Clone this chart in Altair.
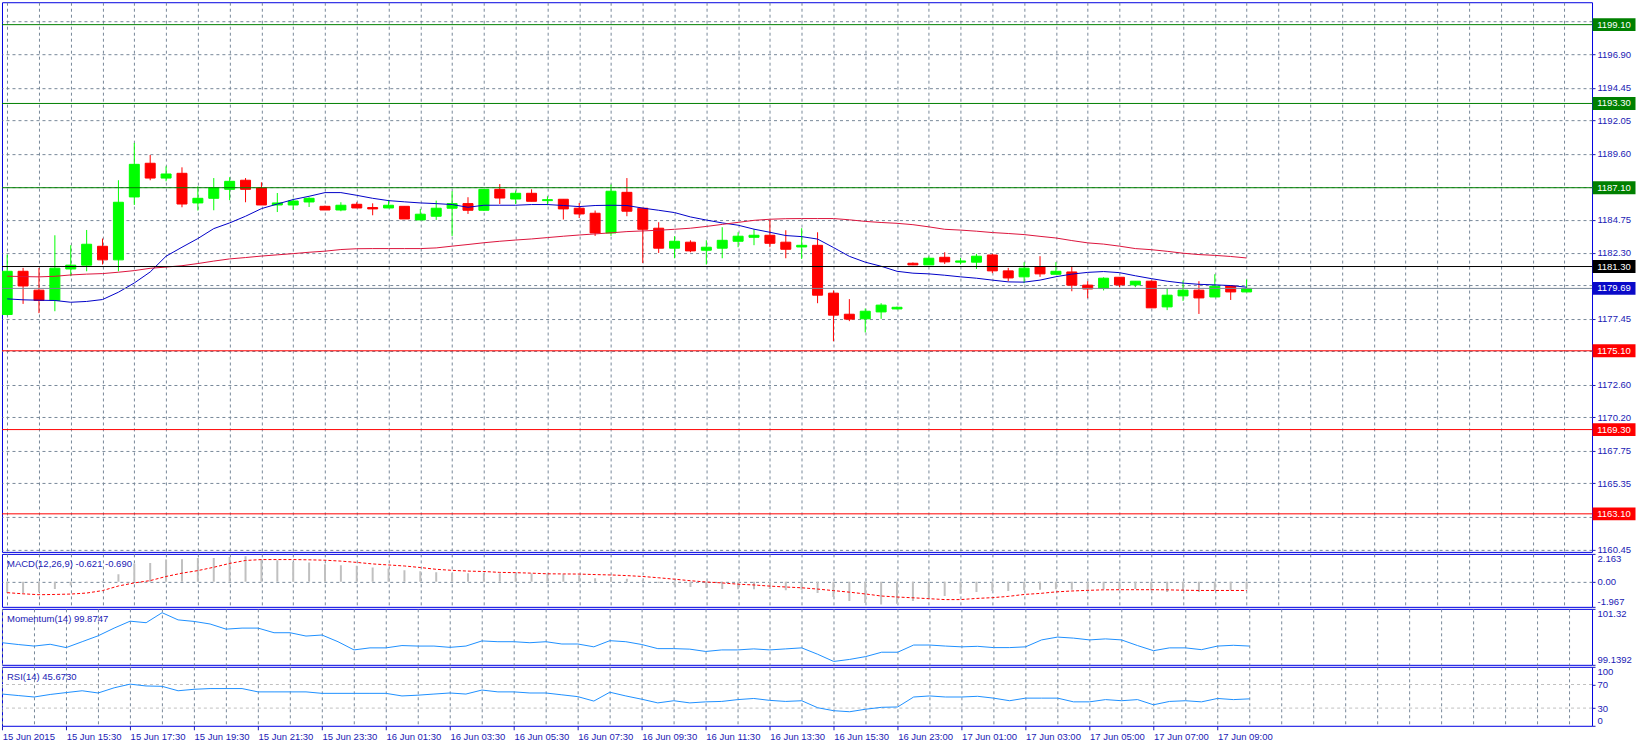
import json
import altair as alt
import pandas as pd

# ---------------- data ----------------
opens = [1177.77, 1180.95, 1179.56, 1178.80, 1181.12, 1181.40, 1182.79, 1181.79, 1186.42, 1188.90,
         1187.81, 1188.16, 1185.98, 1186.32, 1186.98, 1187.65, 1187.08, 1185.83, 1185.83, 1186.05,
         1185.73, 1185.46, 1185.88, 1185.64, 1185.61, 1185.73, 1184.73, 1185.00, 1185.59, 1185.93,
         1185.44, 1186.98, 1186.27, 1186.69, 1186.15, 1186.25, 1185.59, 1185.22, 1183.77, 1186.76,
         1185.59, 1184.12, 1182.65, 1183.09, 1182.50, 1182.65, 1183.16, 1183.45, 1183.60, 1183.09,
         1182.74, 1182.86, 1179.34, 1177.79, 1177.45, 1177.96, 1178.18, 1181.54, 1181.42, 1181.98,
         1181.62, 1181.62, 1182.15, 1180.98, 1180.54, 1181.30, 1180.73, 1180.90, 1179.93, 1179.68,
         1180.51, 1179.95, 1180.22, 1178.33, 1179.14, 1179.56, 1179.06, 1179.87, 1179.43]
highs = [1182.18, 1181.20, 1181.20, 1183.60, 1182.87, 1183.99, 1183.36, 1187.65, 1190.39, 1189.51,
         1188.67, 1188.60, 1187.20, 1187.81, 1187.87, 1187.81, 1187.50, 1186.71, 1186.30, 1186.40,
         1185.78, 1186.03, 1186.03, 1185.95, 1186.20, 1185.73, 1185.54, 1186.15, 1186.84, 1186.40,
         1187.00, 1187.37, 1186.89, 1186.98, 1186.47, 1186.25, 1185.98, 1185.42, 1187.33, 1187.81,
         1185.59, 1184.56, 1183.53, 1183.23, 1183.23, 1184.19, 1183.82, 1184.04, 1184.73, 1183.97,
         1184.12, 1183.82, 1179.54, 1178.90, 1178.21, 1178.60, 1178.35, 1181.60, 1182.04, 1182.35,
         1181.93, 1182.23, 1182.23, 1181.20, 1181.62, 1182.06, 1181.62, 1181.27, 1180.22, 1180.51,
         1180.51, 1180.22, 1180.27, 1179.68, 1180.27, 1180.22, 1180.73, 1179.87, 1180.34]
lows = [1177.70, 1178.55, 1177.87, 1178.01, 1180.59, 1180.95, 1181.45, 1180.95, 1185.83, 1187.65,
        1187.57, 1185.66, 1185.42, 1185.44, 1186.18, 1186.03, 1185.83, 1185.31, 1185.46, 1185.68,
        1185.46, 1185.37, 1185.61, 1185.07, 1185.61, 1184.80, 1184.73, 1184.73, 1183.55, 1185.17,
        1185.40, 1185.90, 1185.90, 1186.10, 1185.81, 1184.76, 1184.87, 1183.55, 1183.55, 1185.00,
        1181.56, 1182.30, 1181.91, 1182.35, 1181.45, 1181.91, 1182.72, 1182.87, 1182.72, 1181.91,
        1181.86, 1178.60, 1175.80, 1177.28, 1176.45, 1177.45, 1178.15, 1181.40, 1181.42, 1181.49,
        1181.45, 1181.12, 1180.81, 1180.22, 1180.07, 1180.54, 1180.73, 1179.48, 1178.97, 1179.54,
        1179.78, 1179.78, 1178.26, 1178.09, 1178.77, 1177.81, 1179.06, 1178.84, 1179.43]
closes = [1180.95, 1179.87, 1178.80, 1181.18, 1181.40, 1182.94, 1181.79, 1186.03, 1188.82, 1187.81,
          1188.11, 1185.90, 1186.32, 1187.11, 1187.57, 1186.98, 1185.83, 1185.98, 1186.12, 1186.32,
          1185.46, 1185.81, 1185.61, 1185.54, 1185.81, 1184.80, 1185.15, 1185.59, 1185.93, 1185.44,
          1186.98, 1186.34, 1186.69, 1186.10, 1186.22, 1185.54, 1185.17, 1183.77, 1186.84, 1185.37,
          1184.04, 1182.65, 1183.16, 1182.45, 1182.72, 1183.23, 1183.53, 1183.60, 1183.01, 1182.57,
          1182.86, 1179.19, 1177.72, 1177.43, 1178.01, 1178.46, 1178.30, 1181.42, 1181.91, 1181.64,
          1181.71, 1182.06, 1180.98, 1180.46, 1181.18, 1180.76, 1180.95, 1179.93, 1179.65, 1180.44,
          1179.95, 1180.22, 1178.26, 1179.19, 1179.56, 1178.99, 1179.85, 1179.43, 1179.69]

ma_fast = [1178.92, 1178.85, 1178.82, 1178.80, 1178.67, 1178.73, 1178.87, 1179.41, 1180.09, 1180.90,
           1182.06, 1182.72, 1183.36, 1184.09, 1184.51, 1185.00, 1185.56, 1185.90, 1186.23, 1186.47,
           1186.74, 1186.74, 1186.54, 1186.32, 1186.15, 1186.06, 1185.98, 1185.93, 1185.86, 1185.66,
           1185.81, 1185.81, 1185.81, 1185.86, 1185.86, 1185.79, 1185.71, 1185.79, 1185.81, 1185.79,
           1185.60, 1185.44, 1185.27, 1184.95, 1184.72, 1184.51, 1184.34, 1184.05, 1183.82, 1183.58,
           1183.50, 1183.32, 1182.70, 1182.05, 1181.62, 1181.32, 1180.95, 1180.81, 1180.76, 1180.66,
           1180.54, 1180.44, 1180.30, 1180.17, 1180.15, 1180.30, 1180.55, 1180.74, 1180.87, 1180.93,
           1180.85, 1180.62, 1180.41, 1180.22, 1180.08, 1179.99, 1179.95, 1179.90, 1179.78]
ma_slow = [1180.59, 1180.56, 1180.54, 1180.58, 1180.68, 1180.74, 1180.78, 1180.88, 1181.00, 1181.17,
           1181.26, 1181.36, 1181.52, 1181.70, 1181.86, 1181.96, 1182.07, 1182.16, 1182.25, 1182.35,
           1182.43, 1182.55, 1182.61, 1182.62, 1182.62, 1182.62, 1182.62, 1182.67, 1182.80, 1182.92,
           1183.05, 1183.16, 1183.25, 1183.33, 1183.43, 1183.53, 1183.62, 1183.70, 1183.78, 1183.87,
           1183.92, 1183.97, 1184.04, 1184.12, 1184.25, 1184.40, 1184.55, 1184.70, 1184.78, 1184.82,
           1184.83, 1184.83, 1184.83, 1184.74, 1184.62, 1184.54, 1184.48, 1184.38, 1184.22, 1184.04,
           1183.98, 1183.90, 1183.80, 1183.73, 1183.65, 1183.52, 1183.40, 1183.21, 1183.04, 1182.95,
           1182.80, 1182.62, 1182.54, 1182.42, 1182.28, 1182.18, 1182.12, 1182.04, 1181.93]

macd_hist = [-0.89, -0.89, -0.83, -0.57, -0.31, -0.08, 0.05, 0.57, 1.41, 1.46,
             1.72, 1.75, 1.85, 1.85, 1.93, 1.98, 1.75, 1.67, 1.54, 1.49,
             1.36, 1.28, 1.23, 1.10, 1.02, 0.89, 0.80, 0.73, 0.65, 0.65,
             0.65, 0.65, 0.63, 0.63, 0.63, 0.57, 0.50, 0.26, 0.37, 0.23,
             0.10, -0.10, -0.29, -0.42, -0.50, -0.57, -0.60, -0.60, -0.57, -0.68,
             -0.63, -0.89, -1.20, -1.51, -1.67, -1.78, -1.72, -1.51, -1.33, -1.12,
             -0.94, -0.81, -0.73, -0.73, -0.68, -0.63, -0.60, -0.63, -0.63, -0.60,
             -0.60, -0.57, -0.68, -0.81, -0.68, -0.81, -0.68, -0.68, -0.62]
macd_signal = [-0.86, -0.95, -1.02, -1.00, -0.97, -0.89, -0.70, -0.34, -0.10, 0.08,
               0.40, 0.66, 0.86, 1.12, 1.42, 1.65, 1.72, 1.72, 1.72, 1.70,
               1.67, 1.60, 1.50, 1.38, 1.30, 1.22, 1.10, 0.96, 0.88, 0.82,
               0.79, 0.72, 0.70, 0.66, 0.61, 0.60, 0.59, 0.55, 0.52, 0.47,
               0.40, 0.30, 0.19, 0.07, -0.03, -0.10, -0.20, -0.26, -0.35, -0.42,
               -0.48, -0.58, -0.70, -0.82, -0.96, -1.12, -1.20, -1.26, -1.33, -1.40,
               -1.40, -1.31, -1.25, -1.15, -1.00, -0.92, -0.80, -0.73, -0.68, -0.64,
               -0.63, -0.63, -0.63, -0.64, -0.67, -0.69, -0.69, -0.69, -0.69]
momentum = [100.00, 99.93, 99.87, 99.94, 99.81, 100.04, 100.27, 100.57, 100.84, 100.78,
            101.17, 100.89, 100.83, 100.73, 100.53, 100.57, 100.57, 100.39, 100.39, 100.26,
            100.30, 100.04, 99.72, 99.80, 99.80, 99.89, 99.87, 99.87, 99.82, 99.87,
            100.07, 100.04, 100.04, 100.00, 100.04, 99.95, 99.95, 99.84, 100.08, 100.04,
            99.93, 99.77, 99.77, 99.75, 99.66, 99.72, 99.72, 99.76, 99.72, 99.76,
            99.80, 99.55, 99.27, 99.35, 99.46, 99.63, 99.63, 99.91, 99.91, 99.87,
            99.84, 99.86, 99.81, 99.81, 99.84, 100.11, 100.22, 100.18, 100.11, 100.15,
            100.11, 99.89, 99.69, 99.80, 99.80, 99.73, 99.87, 99.90, 99.87]
rsi = [53.8, 51.3, 48.8, 53.1, 56.3, 59.4, 55.6, 64.4, 70.6, 67.5,
       66.9, 59.4, 61.9, 63.1, 63.1, 63.1, 57.5, 57.5, 57.5, 57.5,
       55.0, 55.0, 55.0, 55.0, 55.0, 50.6, 51.9, 53.8, 55.6, 53.8,
       60.6, 57.5, 57.5, 55.6, 55.6, 52.5, 49.4, 41.9, 56.9, 50.6,
       45.0, 38.8, 42.5, 38.8, 40.6, 41.3, 44.4, 46.3, 43.1, 41.3,
       42.5, 30.6, 25.6, 23.8, 28.1, 31.3, 31.9, 48.8, 50.6, 48.8,
       48.8, 50.0, 46.9, 42.5, 46.9, 46.9, 46.9, 40.6, 40.6, 44.4,
       42.5, 44.4, 35.6, 41.3, 42.5, 40.6, 46.3, 44.4, 45.67]

tick_labels = ["15 Jun 2015", "15 Jun 15:30", "15 Jun 17:30", "15 Jun 19:30", "15 Jun 21:30",
               "15 Jun 23:30", "16 Jun 01:30", "16 Jun 03:30", "16 Jun 05:30", "16 Jun 07:30",
               "16 Jun 09:30", "16 Jun 11:30", "16 Jun 13:30", "16 Jun 15:30", "16 Jun 23:00",
               "17 Jun 01:00", "17 Jun 03:00", "17 Jun 05:00", "17 Jun 07:00", "17 Jun 09:00"]

level_prices = [1199.10, 1193.30, 1187.10, 1181.30, 1179.69, 1175.10, 1169.30, 1163.10]
level_line_colors = ["#008000", "#008000", "#008000", "#000000", "#778899", "#ff0000", "#ff0000", "#ff0000"]
level_box_colors = ["#008000", "#008000", "#008000", "#000000", "#0a0ac8", "#ff0000", "#ff0000", "#ff0000"]

price_grid = [1160.45, 1162.90, 1165.35, 1167.75, 1170.20, 1172.60, 1175.05, 1177.45, 1179.90,
              1182.30, 1184.75, 1187.15, 1189.60, 1192.05, 1194.45, 1196.90, 1199.35]
hidden_price_labels = [1162.90, 1175.05, 1179.90, 1187.15, 1199.35]

panel_titles = ["MACD(12,26,9) -0.621 -0.690", "Momentum(14) 99.8747", "RSI(14) 45.6730"]
macd_axis_values = [-1.967, 0.0, 2.163]
mom_axis_values = [99.1392, 101.32]
rsi_axis_values = [0, 30, 70, 100]
rsi_levels = [30, 70]

# ---------------- styling ----------------
W = 1591
FONT = "Liberation Sans"
FS = 9.5
TXT = "#1a1ab4"
GRID = "#778899"
BORDER = "#0000e0"
UP = "#00ff00"
DOWN = "#ff0000"

n = len(closes)
idx = list(range(n))
bars = pd.DataFrame({"i": idx, "o": opens, "h": highs, "l": lows, "c": closes})
ind = pd.DataFrame({"i": idx, "fast": ma_fast, "slow": ma_slow, "hist": macd_hist,
                    "sig": macd_signal, "mom": momentum, "rsi": rsi})
levels = pd.DataFrame({"price": level_prices, "line": level_line_colors,
                       "box": level_box_colors,
                       "label": [f"{p:.2f}" for p in level_prices]})

x_scale = alt.Scale(domain=[-0.0125, 99.425], nice=False, zero=False)
grid_vals = list(range(0, 100, 2))

X_GRID_AXIS = alt.Axis(values=grid_vals, grid=True, gridColor=GRID, gridDash=[3, 3], gridOpacity=1,
                       labels=False, ticks=False, domain=False, title=None)


def X():
    return alt.X("i:Q", scale=x_scale, axis=X_GRID_AXIS)


def right_axis(values, label_expr, flush=False, grid=False, grid_test=None):
    kw = {}
    if grid_test is not None:
        kw["gridOpacity"] = {"condition": {"test": grid_test, "value": 1}, "value": 0}
    else:
        kw["gridOpacity"] = 1
    return alt.Axis(orient="right", values=values, labelExpr=label_expr, labelColor=TXT,
                    labelFont=FONT, labelFontSize=FS, labelOverlap=False, labelFlush=flush,
                    labelPadding=2, tickColor=TXT, tickSize=3, domain=False, title=None,
                    grid=grid, gridColor=GRID, gridDash=[3, 3], **kw)


# ---------------- main price panel ----------------
y_main = alt.Scale(domain=[1160.30, 1200.75], nice=False, zero=False)
main_label_expr = (f"indexof({json.dumps(hidden_price_labels)}, datum.value) >= 0 ? '' : "
                   "format(datum.value, '.2f')")
MAIN_AX = right_axis(price_grid, main_label_expr, grid=True)


def YM(field):
    return alt.Y(field, scale=y_main, axis=MAIN_AX)


candle_base = alt.Chart(bars).transform_calculate(
    col=f"datum.c >= datum.o ? '{UP}' : '{DOWN}'")

wicks = candle_base.mark_rule(strokeWidth=1, clip=True).encode(
    x=X(), y=YM("l:Q"), y2="h:Q",
    color=alt.Color("col:N", scale=None),
)
bodies = candle_base.mark_bar(size=10, strokeWidth=1, clip=True).encode(
    x=X(), y=YM("o:Q"), y2="c:Q",
    fill=alt.Fill("col:N", scale=None),
    stroke=alt.Stroke("col:N", scale=None),
)
fast_line = alt.Chart(ind).mark_line(color="#0000c8", strokeWidth=1, clip=True).encode(
    x=X(), y=YM("fast:Q"))
slow_line = alt.Chart(ind).mark_line(color="#dc143c", strokeWidth=1, clip=True).encode(
    x=X(), y=YM("slow:Q"))
level_rules = alt.Chart(levels).mark_rule(strokeWidth=1).encode(
    y=YM("price:Q"), color=alt.Color("line:N", scale=None))
level_boxes = alt.Chart(levels).mark_point(
    shape="M-1,-0.3L1,-0.3L1,0.3L-1,0.3Z", filled=True, size=43 * 43, opacity=1, strokeWidth=0
).encode(
    x=alt.value(W + 22), y=YM("price:Q"),
    color=alt.Color("box:N", scale=None))
level_text = alt.Chart(levels).mark_text(
    color="white", font=FONT, fontSize=FS, align="center", baseline="middle"
).encode(
    x=alt.value(W + 22), y=YM("price:Q"), text="label:N")

main = alt.layer(wicks, bodies, fast_line, slow_line, level_rules, level_boxes, level_text
                 ).properties(width=W, height=550)


def title_layer(t):
    return alt.Chart(pd.DataFrame({"t": [t]})).mark_text(
        font=FONT, fontSize=FS, color=TXT, align="left", baseline="middle"
    ).encode(x=alt.value(5), y=alt.value(10), text="t:N")


# ---------------- MACD panel ----------------
y_macd = alt.Scale(domain=[-1.967, 2.163], nice=False, zero=False)
macd_label_expr = ("datum.value == 0 ? '0.00' : "
                   "replace(format(datum.value, '.3f'), '\u2212', '-')")
MACD_AX = right_axis(macd_axis_values, macd_label_expr, flush=True, grid=True,
                     grid_test="datum.value == 0")
macd_hist_l = alt.Chart(ind).mark_bar(size=2, color="#c0c0c0", clip=True).encode(
    x=X(), y=alt.Y("hist:Q", scale=y_macd, axis=MACD_AX), y2=alt.datum(0))
macd_sig_l = alt.Chart(ind).mark_line(color="#ff0000", strokeDash=[3, 2], strokeWidth=1, clip=True).encode(
    x=X(), y=alt.Y("sig:Q", scale=y_macd, axis=MACD_AX))
macd = alt.layer(macd_hist_l, macd_sig_l, title_layer(panel_titles[0])
                 ).properties(width=W, height=53)

# ---------------- Momentum panel ----------------
y_mom = alt.Scale(domain=[99.1392, 101.32], nice=False, zero=False)
mom_label_expr = "datum.value > 100 ? format(datum.value, '.2f') : format(datum.value, '.4f')"
mom_l = alt.Chart(ind).mark_line(color="#1e90ff", strokeWidth=1, clip=True).encode(
    x=X(),
    y=alt.Y("mom:Q", scale=y_mom, axis=right_axis(mom_axis_values, mom_label_expr, flush=True)))
mom = alt.layer(mom_l, title_layer(panel_titles[1])).properties(width=W, height=56)

# ---------------- RSI panel ----------------
y_rsi = alt.Scale(domain=[0, 100], nice=False, zero=False)
x_label_expr = (f"(datum.value % 4 == 0 && datum.value <= {4 * (len(tick_labels) - 1)}) ? "
                f"{json.dumps(tick_labels)}[datum.value / 4] : ''")
RSI_X_AX = alt.Axis(values=grid_vals, grid=True, gridColor=GRID, gridDash=[3, 3], gridOpacity=1,
                    labelExpr=x_label_expr, labelAlign="left", labelFlush=False, labelOverlap=False,
                    labelColor=TXT, labelFont=FONT, labelFontSize=FS, labelPadding=2,
                    tickColor=TXT, tickSize=4,
                    tickOpacity={"condition": {"test": "datum.value % 4 == 0 && datum.value <= 76",
                                               "value": 1}, "value": 0},
                    domain=False, title=None)
RSI_Y_AX = right_axis(rsi_axis_values, "format(datum.value, 'd')", flush=True)
rsi_lv = alt.Chart(pd.DataFrame({"lv": rsi_levels})).mark_rule(
    color="#c0c0c0", strokeDash=[3, 3], strokeWidth=1).encode(
    y=alt.Y("lv:Q", scale=y_rsi, axis=RSI_Y_AX))
rsi_l = alt.Chart(ind).mark_line(color="#1e90ff", strokeWidth=1, clip=True).encode(
    x=alt.X("i:Q", scale=x_scale, axis=RSI_X_AX),
    y=alt.Y("rsi:Q", scale=y_rsi, axis=RSI_Y_AX))
rsi_p = alt.layer(rsi_lv, rsi_l, title_layer(panel_titles[2])).properties(width=W, height=59)

chart = alt.vconcat(main, macd, mom, rsi_p, spacing=2, bounds="flush",
                    padding={"left": 1, "top": 1, "right": 0, "bottom": 0},
                    background="white"
                    ).configure_view(stroke=BORDER, strokeWidth=1)

chart.save("out.html", embed_options={"renderer": "svg", "actions": False})
